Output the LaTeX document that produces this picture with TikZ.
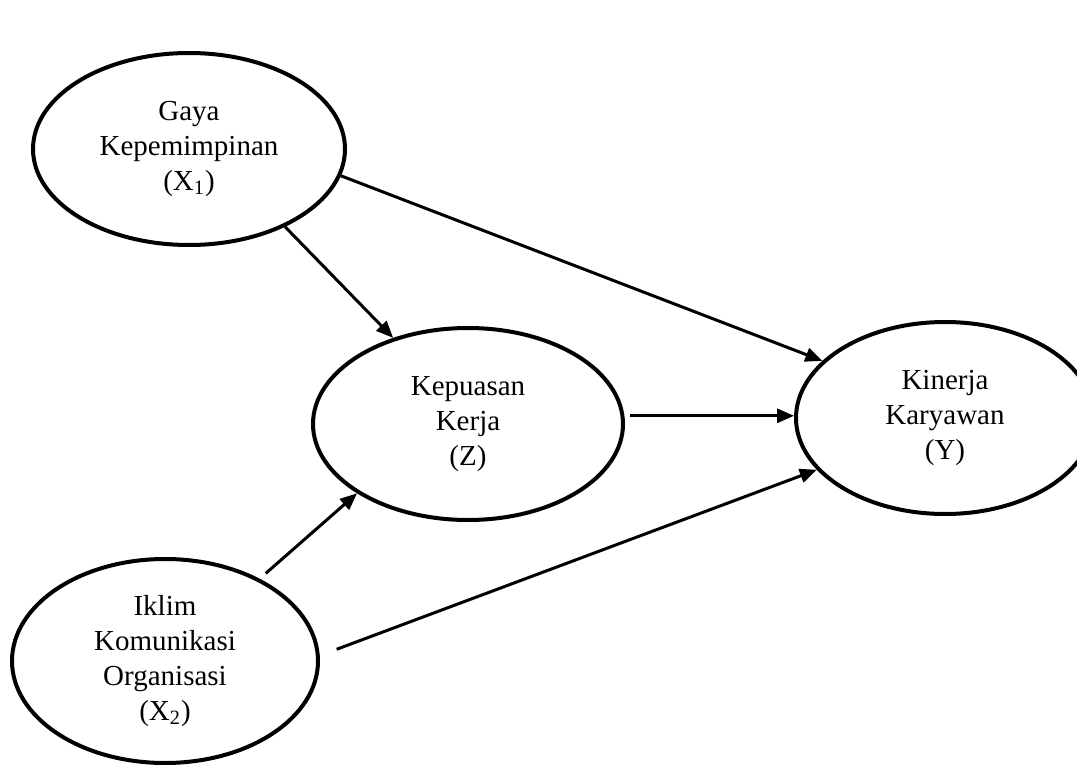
\documentclass[tikz,border=0pt]{standalone}
\usepackage{fontspec}
\setmainfont{Liberation Serif}
\usetikzlibrary{shapes.geometric,arrows.meta}
\tikzset{
  latent/.style={ellipse, draw, line width=2pt, inner sep=0pt, align=center,
    font=\fontsize{14.5}{17.5}\selectfont},
  path/.style={line width=1.5pt, -{Triangle[length=8.5pt,width=7pt]}}
}
\begin{document}
\begin{tikzpicture}[x=0.5pt,y=-0.5pt]
\path[use as bounding box] (0,0) rectangle (1077,765);
\clip (0,0) rectangle (1077,765);
\node[latent, minimum width=156pt, minimum height=96pt] (gaya) at (189,149)
  {Gaya\\Kepemimpinan\\(X\textsubscript{1})};
\node[latent, minimum width=155pt, minimum height=96pt] (kep) at (468,424)
  {Kepuasan\\Kerja\\(Z)};
\node[latent, minimum width=149pt, minimum height=96pt] (kin) at (945,418)
  {Kinerja\\Karyawan\\(Y)};
\node[latent, minimum width=153pt, minimum height=102pt] (ikl) at (165,661)
  {Iklim\\Komunikasi\\Organisasi\\(X\textsubscript{2})};
\coordinate (kepout) at ([xshift=3pt]kep.3);
\draw[path] (gaya.-39.6) -- (kep.131.6);
\draw[path] (gaya.-10.5) -- (kin.155.3);
\draw[path] (kepout) -- (kepout -| kin.west);
\draw[path, shorten <=4pt] (ikl.41) -- (kep.-148.2);
\draw[path, shorten <=9pt] (ikl.2.3) -- (kin.-158.4);
\end{tikzpicture}
\end{document}
